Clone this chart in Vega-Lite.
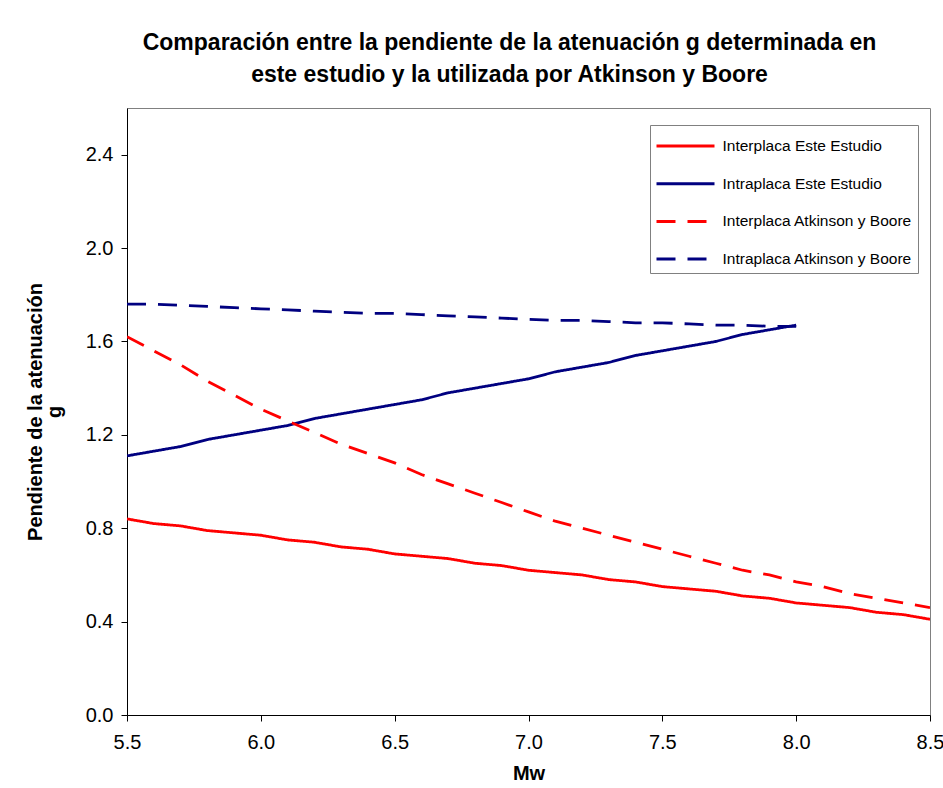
{
  "$schema": "https://vega.github.io/schema/vega-lite/v6.json",
  "width": 803,
  "height": 607,
  "autosize": {"type": "none"},
  "padding": {"left": 127, "top": 108, "right": 13, "bottom": 73},
  "background": "white",
  "title": {
    "text": ["Comparación entre la pendiente de la atenuación g determinada en", "este estudio y la utilizada por Atkinson y Boore"],
    "font": "Liberation Sans",
    "fontSize": 23,
    "fontWeight": "bold",
    "color": "black",
    "lineHeight": 32,
    "anchor": "middle",
    "dx": -19,
    "offset": 21
  },
  "config": {
    "view": {"stroke": "#808080", "strokeWidth": 1},
    "axis": {
      "grid": false,
      "domainColor": "black",
      "tickColor": "black",
      "labelFont": "Liberation Sans",
      "labelFontSize": 20,
      "labelColor": "black",
      "titleFont": "Liberation Sans",
      "titleFontSize": 20,
      "titleFontWeight": "bold",
      "titleColor": "black",
      "tickSize": 6
    }
  },
  "data": {
    "values": [
      {"serie": "Interplaca Este Estudio", "mw": 5.5, "g": 0.84},
      {"serie": "Interplaca Este Estudio", "mw": 5.6, "g": 0.82},
      {"serie": "Interplaca Este Estudio", "mw": 5.7, "g": 0.81},
      {"serie": "Interplaca Este Estudio", "mw": 5.8, "g": 0.79},
      {"serie": "Interplaca Este Estudio", "mw": 5.9, "g": 0.78},
      {"serie": "Interplaca Este Estudio", "mw": 6.0, "g": 0.77},
      {"serie": "Interplaca Este Estudio", "mw": 6.1, "g": 0.75},
      {"serie": "Interplaca Este Estudio", "mw": 6.2, "g": 0.74},
      {"serie": "Interplaca Este Estudio", "mw": 6.3, "g": 0.72},
      {"serie": "Interplaca Este Estudio", "mw": 6.4, "g": 0.71},
      {"serie": "Interplaca Este Estudio", "mw": 6.5, "g": 0.69},
      {"serie": "Interplaca Este Estudio", "mw": 6.6, "g": 0.68},
      {"serie": "Interplaca Este Estudio", "mw": 6.7, "g": 0.67},
      {"serie": "Interplaca Este Estudio", "mw": 6.8, "g": 0.65},
      {"serie": "Interplaca Este Estudio", "mw": 6.9, "g": 0.64},
      {"serie": "Interplaca Este Estudio", "mw": 7.0, "g": 0.62},
      {"serie": "Interplaca Este Estudio", "mw": 7.1, "g": 0.61},
      {"serie": "Interplaca Este Estudio", "mw": 7.2, "g": 0.60},
      {"serie": "Interplaca Este Estudio", "mw": 7.3, "g": 0.58},
      {"serie": "Interplaca Este Estudio", "mw": 7.4, "g": 0.57},
      {"serie": "Interplaca Este Estudio", "mw": 7.5, "g": 0.55},
      {"serie": "Interplaca Este Estudio", "mw": 7.6, "g": 0.54},
      {"serie": "Interplaca Este Estudio", "mw": 7.7, "g": 0.53},
      {"serie": "Interplaca Este Estudio", "mw": 7.8, "g": 0.51},
      {"serie": "Interplaca Este Estudio", "mw": 7.9, "g": 0.50},
      {"serie": "Interplaca Este Estudio", "mw": 8.0, "g": 0.48},
      {"serie": "Interplaca Este Estudio", "mw": 8.1, "g": 0.47},
      {"serie": "Interplaca Este Estudio", "mw": 8.2, "g": 0.46},
      {"serie": "Interplaca Este Estudio", "mw": 8.3, "g": 0.44},
      {"serie": "Interplaca Este Estudio", "mw": 8.4, "g": 0.43},
      {"serie": "Interplaca Este Estudio", "mw": 8.5, "g": 0.41},
      {"serie": "Intraplaca Este Estudio", "mw": 5.5, "g": 1.11},
      {"serie": "Intraplaca Este Estudio", "mw": 5.6, "g": 1.13},
      {"serie": "Intraplaca Este Estudio", "mw": 5.7, "g": 1.15},
      {"serie": "Intraplaca Este Estudio", "mw": 5.8, "g": 1.18},
      {"serie": "Intraplaca Este Estudio", "mw": 5.9, "g": 1.20},
      {"serie": "Intraplaca Este Estudio", "mw": 6.0, "g": 1.22},
      {"serie": "Intraplaca Este Estudio", "mw": 6.1, "g": 1.24},
      {"serie": "Intraplaca Este Estudio", "mw": 6.2, "g": 1.27},
      {"serie": "Intraplaca Este Estudio", "mw": 6.3, "g": 1.29},
      {"serie": "Intraplaca Este Estudio", "mw": 6.4, "g": 1.31},
      {"serie": "Intraplaca Este Estudio", "mw": 6.5, "g": 1.33},
      {"serie": "Intraplaca Este Estudio", "mw": 6.6, "g": 1.35},
      {"serie": "Intraplaca Este Estudio", "mw": 6.7, "g": 1.38},
      {"serie": "Intraplaca Este Estudio", "mw": 6.8, "g": 1.40},
      {"serie": "Intraplaca Este Estudio", "mw": 6.9, "g": 1.42},
      {"serie": "Intraplaca Este Estudio", "mw": 7.0, "g": 1.44},
      {"serie": "Intraplaca Este Estudio", "mw": 7.1, "g": 1.47},
      {"serie": "Intraplaca Este Estudio", "mw": 7.2, "g": 1.49},
      {"serie": "Intraplaca Este Estudio", "mw": 7.3, "g": 1.51},
      {"serie": "Intraplaca Este Estudio", "mw": 7.4, "g": 1.54},
      {"serie": "Intraplaca Este Estudio", "mw": 7.5, "g": 1.56},
      {"serie": "Intraplaca Este Estudio", "mw": 7.6, "g": 1.58},
      {"serie": "Intraplaca Este Estudio", "mw": 7.7, "g": 1.60},
      {"serie": "Intraplaca Este Estudio", "mw": 7.8, "g": 1.63},
      {"serie": "Intraplaca Este Estudio", "mw": 7.9, "g": 1.65},
      {"serie": "Intraplaca Este Estudio", "mw": 8.0, "g": 1.67},
      {"serie": "Interplaca Atkinson y Boore", "mw": 5.5, "g": 1.62},
      {"serie": "Interplaca Atkinson y Boore", "mw": 5.6, "g": 1.56},
      {"serie": "Interplaca Atkinson y Boore", "mw": 5.7, "g": 1.50},
      {"serie": "Interplaca Atkinson y Boore", "mw": 5.8, "g": 1.43},
      {"serie": "Interplaca Atkinson y Boore", "mw": 5.9, "g": 1.37},
      {"serie": "Interplaca Atkinson y Boore", "mw": 6.0, "g": 1.31},
      {"serie": "Interplaca Atkinson y Boore", "mw": 6.1, "g": 1.26},
      {"serie": "Interplaca Atkinson y Boore", "mw": 6.2, "g": 1.21},
      {"serie": "Interplaca Atkinson y Boore", "mw": 6.3, "g": 1.16},
      {"serie": "Interplaca Atkinson y Boore", "mw": 6.4, "g": 1.12},
      {"serie": "Interplaca Atkinson y Boore", "mw": 6.5, "g": 1.08},
      {"serie": "Interplaca Atkinson y Boore", "mw": 6.6, "g": 1.03},
      {"serie": "Interplaca Atkinson y Boore", "mw": 6.7, "g": 0.99},
      {"serie": "Interplaca Atkinson y Boore", "mw": 6.8, "g": 0.95},
      {"serie": "Interplaca Atkinson y Boore", "mw": 6.9, "g": 0.91},
      {"serie": "Interplaca Atkinson y Boore", "mw": 7.0, "g": 0.87},
      {"serie": "Interplaca Atkinson y Boore", "mw": 7.1, "g": 0.83},
      {"serie": "Interplaca Atkinson y Boore", "mw": 7.2, "g": 0.80},
      {"serie": "Interplaca Atkinson y Boore", "mw": 7.3, "g": 0.77},
      {"serie": "Interplaca Atkinson y Boore", "mw": 7.4, "g": 0.74},
      {"serie": "Interplaca Atkinson y Boore", "mw": 7.5, "g": 0.71},
      {"serie": "Interplaca Atkinson y Boore", "mw": 7.6, "g": 0.68},
      {"serie": "Interplaca Atkinson y Boore", "mw": 7.7, "g": 0.65},
      {"serie": "Interplaca Atkinson y Boore", "mw": 7.8, "g": 0.62},
      {"serie": "Interplaca Atkinson y Boore", "mw": 7.9, "g": 0.60},
      {"serie": "Interplaca Atkinson y Boore", "mw": 8.0, "g": 0.57},
      {"serie": "Interplaca Atkinson y Boore", "mw": 8.1, "g": 0.55},
      {"serie": "Interplaca Atkinson y Boore", "mw": 8.2, "g": 0.52},
      {"serie": "Interplaca Atkinson y Boore", "mw": 8.3, "g": 0.50},
      {"serie": "Interplaca Atkinson y Boore", "mw": 8.4, "g": 0.48},
      {"serie": "Interplaca Atkinson y Boore", "mw": 8.5, "g": 0.46},
      {"serie": "Intraplaca Atkinson y Boore", "mw": 5.5, "g": 1.76},
      {"serie": "Intraplaca Atkinson y Boore", "mw": 5.6, "g": 1.76},
      {"serie": "Intraplaca Atkinson y Boore", "mw": 5.7, "g": 1.755},
      {"serie": "Intraplaca Atkinson y Boore", "mw": 5.8, "g": 1.75},
      {"serie": "Intraplaca Atkinson y Boore", "mw": 5.9, "g": 1.745},
      {"serie": "Intraplaca Atkinson y Boore", "mw": 6.0, "g": 1.74},
      {"serie": "Intraplaca Atkinson y Boore", "mw": 6.1, "g": 1.735},
      {"serie": "Intraplaca Atkinson y Boore", "mw": 6.2, "g": 1.73},
      {"serie": "Intraplaca Atkinson y Boore", "mw": 6.3, "g": 1.725},
      {"serie": "Intraplaca Atkinson y Boore", "mw": 6.4, "g": 1.72},
      {"serie": "Intraplaca Atkinson y Boore", "mw": 6.5, "g": 1.72},
      {"serie": "Intraplaca Atkinson y Boore", "mw": 6.6, "g": 1.715},
      {"serie": "Intraplaca Atkinson y Boore", "mw": 6.7, "g": 1.71},
      {"serie": "Intraplaca Atkinson y Boore", "mw": 6.8, "g": 1.705},
      {"serie": "Intraplaca Atkinson y Boore", "mw": 6.9, "g": 1.70},
      {"serie": "Intraplaca Atkinson y Boore", "mw": 7.0, "g": 1.695},
      {"serie": "Intraplaca Atkinson y Boore", "mw": 7.1, "g": 1.69},
      {"serie": "Intraplaca Atkinson y Boore", "mw": 7.2, "g": 1.69},
      {"serie": "Intraplaca Atkinson y Boore", "mw": 7.3, "g": 1.685},
      {"serie": "Intraplaca Atkinson y Boore", "mw": 7.4, "g": 1.68},
      {"serie": "Intraplaca Atkinson y Boore", "mw": 7.5, "g": 1.68},
      {"serie": "Intraplaca Atkinson y Boore", "mw": 7.6, "g": 1.675},
      {"serie": "Intraplaca Atkinson y Boore", "mw": 7.7, "g": 1.67},
      {"serie": "Intraplaca Atkinson y Boore", "mw": 7.8, "g": 1.67},
      {"serie": "Intraplaca Atkinson y Boore", "mw": 7.9, "g": 1.665},
      {"serie": "Intraplaca Atkinson y Boore", "mw": 8.0, "g": 1.665}
    ]
  },
  "mark": {"type": "line", "strokeWidth": 2.8, "clip": true},
  "encoding": {
    "x": {
      "field": "mw",
      "type": "quantitative",
      "title": "Mw",
      "scale": {"domain": [5.5, 8.5], "nice": false, "zero": false},
      "axis": {"values": [5.5, 6.0, 6.5, 7.0, 7.5, 8.0, 8.5], "format": ".1f", "labelPadding": 11, "titlePadding": 11, "labelFlush": false}
    },
    "y": {
      "field": "g",
      "type": "quantitative",
      "title": ["Pendiente de la atenuación", "g"],
      "scale": {"domain": [0, 2.6], "nice": false},
      "axis": {"values": [0, 0.4, 0.8, 1.2, 1.6, 2.0, 2.4], "format": ".1f", "labelPadding": 8, "titlePadding": 21, "labelFlush": false, "titleLineHeight": 19}
    },
    "color": {
      "field": "serie",
      "type": "nominal",
      "title": null,
      "scale": {
        "domain": ["Interplaca Este Estudio", "Intraplaca Este Estudio", "Interplaca Atkinson y Boore", "Intraplaca Atkinson y Boore"],
        "range": ["#FF0000", "#000080", "#FF0000", "#000080"]
      },
      "legend": {
        "orient": "none",
        "legendX": 523,
        "legendY": 17,
        "symbolType": "M-2,0H2",
        "symbolSize": 841,
        "symbolOffset": 14.5,
        "symbolStrokeWidth": 3,
        "labelFont": "Liberation Sans",
        "labelFontSize": 15.5,
        "labelLimit": 300,
        "labelColor": "black",
        "strokeColor": "#808080",
        "fillColor": "white",
        "padding": 5,
        "rowPadding": 12.7,
        "labelOffset": 21
      }
    },
    "strokeDash": {
      "field": "serie",
      "type": "nominal",
      "title": null,
      "scale": {
        "domain": ["Interplaca Este Estudio", "Intraplaca Este Estudio", "Interplaca Atkinson y Boore", "Intraplaca Atkinson y Boore"],
        "range": [[1, 0], [1, 0], [19, 12], [19, 12]]
      }
    }
  }
}
